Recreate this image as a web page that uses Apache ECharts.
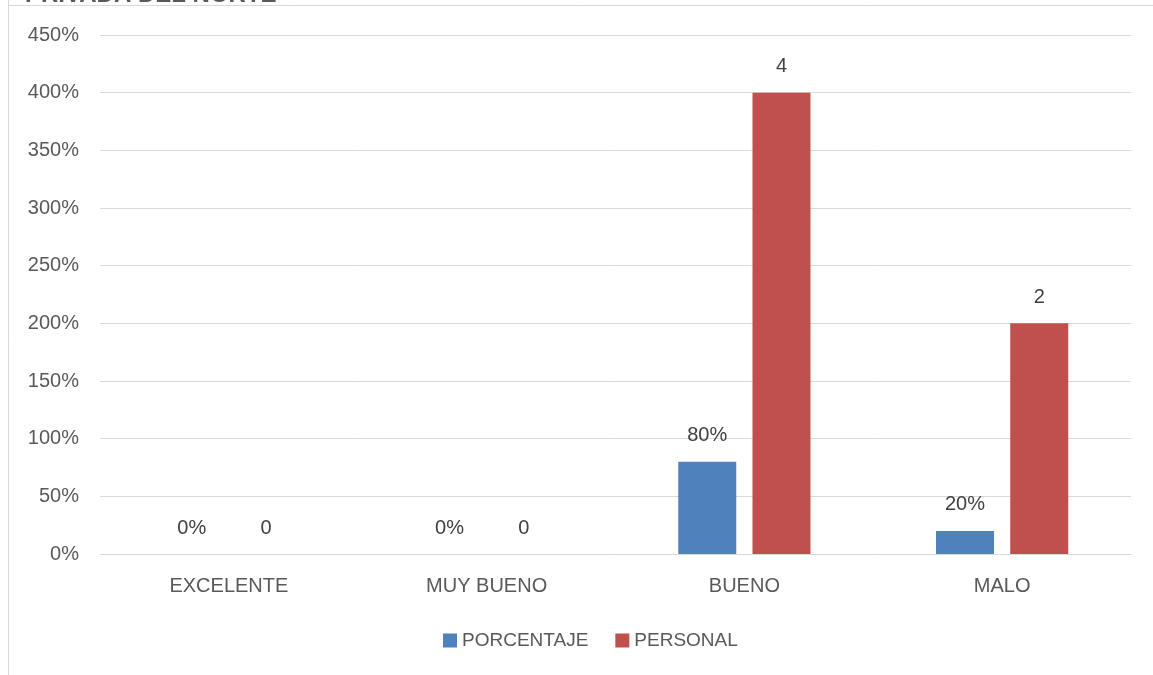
<!DOCTYPE html>
<html>
<head>
<meta charset="utf-8">
<script src="https://cdn.jsdelivr.net/npm/echarts@6/dist/echarts.min.js"></script>
<style>
html,body{margin:0;padding:0;background:#fff;}
#chart{width:1153px;height:675px;}
</style>
</head>
<body>
<div id="chart"></div>
<script>
var categories = ['EXCELENTE', 'MUY BUENO', 'BUENO', 'MALO'];
var porcentaje = [0, 0, 0.8, 0.2];
var personal = [0, 0, 4, 2];
var seriesNames = ['PORCENTAJE', 'PERSONAL'];
var titleText = 'PRIVADA DEL NORTE';

var FONT = 'Liberation Sans';
var chart = echarts.init(document.getElementById('chart'), null, {renderer: 'canvas'});
var option = {
  animation: false,
  backgroundColor: '#ffffff',
  grid: {left: 100, right: 22, top: 35, bottom: 121, containLabel: false},
  graphic: [
    {type: 'text', x: 25, y: -17, z: 10, style: {text: titleText, font: 'bold 24px ' + FONT, fill: '#595959', textAlign: 'left', verticalAlign: 'top'}, silent: true},
    {type: 'line', z: 11, shape: {x1: 8.5, y1: 0, x2: 8.5, y2: 675}, style: {stroke: '#d9d9d9', lineWidth: 1}, silent: true},
    {type: 'line', z: 11, shape: {x1: 8, y1: 5.5, x2: 1153, y2: 5.5}, style: {stroke: '#d9d9d9', lineWidth: 1}, silent: true}
  ],
  legend: {
    data: seriesNames,
    left: 438,
    top: 626,
    itemWidth: 14,
    itemHeight: 14,
    itemGap: 27,
    icon: 'rect',
    textStyle: {fontFamily: FONT, fontSize: 19, color: '#595959'}
  },
  xAxis: {
    type: 'category',
    data: categories,
    axisLine: {show: true, lineStyle: {color: '#d9d9d9', width: 1}},
    axisTick: {show: false},
    axisLabel: {fontFamily: FONT, fontSize: 20, color: '#595959', margin: 22}
  },
  yAxis: {
    type: 'value',
    min: 0,
    max: 4.5,
    interval: 0.5,
    axisLine: {show: false},
    axisTick: {show: false},
    splitLine: {lineStyle: {color: '#d9d9d9', width: 1}},
    axisLabel: {
      fontFamily: FONT, fontSize: 20, color: '#595959', margin: 21,
      formatter: function (v) { return Math.round(v * 100) + '%'; }
    }
  },
  series: [
    {
      name: seriesNames[0],
      type: 'bar',
      data: porcentaje,
      barWidth: 58,
      barGap: '28%',
      itemStyle: {color: '#4f81bd'},
      label: {
        show: true, position: 'top', distance: 16,
        fontFamily: FONT, fontSize: 20, color: '#404040',
        formatter: function (p) { return Math.round(p.value * 100) + '%'; }
      }
    },
    {
      name: seriesNames[1],
      type: 'bar',
      data: personal,
      barWidth: 58,
      barGap: '28%',
      itemStyle: {color: '#c0504d'},
      label: {
        show: true, position: 'top', distance: 16,
        fontFamily: FONT, fontSize: 20, color: '#404040',
        formatter: function (p) { return String(p.value); }
      }
    }
  ]
};
chart.setOption(option);
</script>
</body>
</html>
